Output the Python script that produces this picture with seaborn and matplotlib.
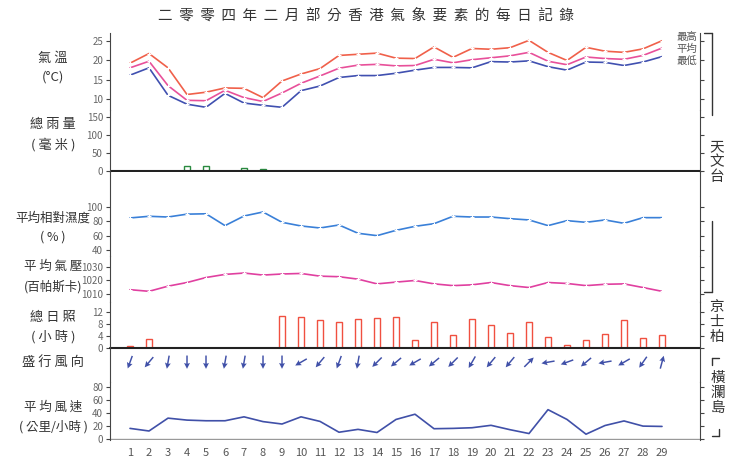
import numpy as np
import pandas as pd
import matplotlib
matplotlib.use("Agg")
import matplotlib.pyplot as plt
import seaborn as sns

sns.set_style("white")
plt.rcParams["font.family"] = ["Noto Sans CJK TC", "DejaVu Sans"]

days = list(range(1, 30))
t_max = [19.3, 21.8, 18.1, 11.2, 11.8, 12.9, 12.8, 10.4, 14.7, 16.5, 17.9, 21.3, 21.6, 21.9, 20.6,
         20.5, 23.5, 20.8, 23.1, 22.9, 23.3, 25.2, 22.1, 20.0, 23.4, 22.4, 22.1, 23.0, 25.1]
t_mean = [18.1, 19.8, 13.5, 9.7, 9.6, 12.3, 10.4, 9.4, 11.6, 14.1, 16.0, 18.0, 18.8, 19.0, 18.6,
          18.7, 20.3, 19.4, 20.2, 20.7, 21.2, 22.1, 19.8, 18.9, 20.9, 20.5, 20.3, 21.3, 23.2]
t_min = [16.2, 18.1, 11.0, 8.7, 7.9, 11.5, 9.0, 8.4, 7.9, 12.2, 13.4, 15.6, 16.1, 16.1, 16.7,
         17.5, 18.2, 18.2, 18.1, 19.7, 19.6, 19.9, 18.4, 17.5, 19.6, 19.5, 18.7, 19.6, 21.0]
rain = [0, 0, 0, 15, 14, 0, 9, 6] + [0] * 21
humidity = [84.7, 87, 86, 90, 90.5, 74, 87.4, 93, 78.6, 73.5, 70.7, 74.9, 63.3, 60, 67.4, 73, 76.7,
            87, 86, 86, 83.7, 81.9, 74, 80.9, 78.6, 81.9, 77.2, 85.1, 85.1]
pressure = [1013.2, 1012, 1015.8, 1018.5, 1022.2, 1024.5, 1025.5, 1024, 1024.8, 1025.2, 1023.2,
            1022.8, 1021, 1017.5, 1018.8, 1020, 1017.5, 1016.2, 1016.8, 1018.5, 1016.2, 1014.8,
            1018.5, 1017.8, 1016.2, 1017.2, 1017.5, 1014.8, 1012]
sunshine = [0.8, 2.9, 0, 0, 0, 0, 0, 0, 10.5, 10.3, 9.2, 8.8, 9.5, 9.9, 10.3, 2.7, 8.5, 4.4, 9.8,
            7.5, 5.0, 8.5, 3.6, 1.0, 2.5, 4.8, 9.4, 3.3, 4.3]
# prevailing wind direction, compass bearing the wind blows from (degrees)
wind_from = [20, 40, 10, 0, 0, 10, 10, 0, 0, 60, 40, 20, 10, 45, 50, 60, 50, 45, 30, 40, 40, 225,
             80, 70, 50, 80, 60, 35, 195]
wind_speed = [16.3, 12.3, 32, 29, 28, 28, 34, 26.7, 23, 34, 27, 10.4, 14.8, 10, 30, 38, 15.8, 16.3,
              17.3, 21, 14.3, 8.4, 45, 30, 7.4, 20.7, 27.7, 19.8, 19.3]

df = pd.DataFrame({"day": days, "max": t_max, "mean": t_mean, "min": t_min, "rain": rain,
                   "rh": humidity, "p": pressure, "sun": sunshine, "ws": wind_speed})

W, H = 733, 463
fig = plt.figure(figsize=(W / 100, H / 100), dpi=100)
grey = "#666666"


def make_ax(top, bottom, ylim, ticks):
    ax = fig.add_axes([110 / W, 1 - bottom / H, 590 / W, (bottom - top) / H])
    ax.set_xlim(-0.053, 31)
    ax.set_ylim(*ylim)
    ax.set_yticks(ticks)
    ax.set_xticks([])
    ax.patch.set_alpha(0)
    for s in ["top", "bottom"]:
        ax.spines[s].set_visible(False)
    for s in ["left", "right"]:
        ax.spines[s].set_color("#444444")
        ax.spines[s].set_linewidth(0.8)
    ax.tick_params(axis="y", which="both", direction="out", length=3, labelsize=7,
                   labelcolor=grey, colors="#444444", right=True, left=True, pad=2)
    return ax


def label(ax, lines, y, fs=9):
    ax.text(-57 / 590, y, "\n".join(lines), transform=ax.transAxes, ha="center", va="center",
            fontsize=fs, color="#333333", linespacing=1.6)


def clean(ax):
    ax.set_ylabel("")
    ax.set_xlabel("")


# temperature
ax = make_ax(33, 110, (7.2, 27.1), [10, 15, 20, 25])
for col, c in [("max", "#f0604a"), ("mean", "#e8509a"), ("min", "#4050b0")]:
    sns.lineplot(data=df, x="day", y=col, ax=ax, color=c, lw=1.2, marker="+", ms=3, mew=0.8)
clean(ax)
for i, t in enumerate(["最高", "平均", "最低"]):
    ax.text(1.0 - 0.004, 0.95 - i * 0.16, t, transform=ax.transAxes, ha="right", va="center",
            fontsize=7.5, color="#555555")
label(ax, ["氣 溫", "(°C)"], 0.55, fs=9.5)

# rainfall
ax = make_ax(110, 172, (-2.8, 169.4), [0, 50, 100, 150])
ax.bar(df["day"], df["rain"], width=0.35, facecolor="white", edgecolor="#2a8a40", lw=1)
ax.axhline(0, color="#222222", lw=1.5)
label(ax, ["總 雨 量", "( 毫 米 )"], 0.6, fs=9.5)

# humidity
ax = make_ax(172, 256, (31.6, 148.8), [40, 60, 80, 100])
sns.lineplot(data=df, x="day", y="rh", ax=ax, color="#3a80d8", lw=1.2, marker="+", ms=3)
clean(ax)
label(ax, ["平均相對濕度", "( % )"], 0.34)

# pressure
ax = make_ax(256, 302, (1004.1, 1038.1), [1010, 1020, 1030])
sns.lineplot(data=df, x="day", y="p", ax=ax, color="#e040a0", lw=1.2, marker="+", ms=3)
clean(ax)
label(ax, ["平 均 氣 壓", "(百帕斯卡)"], 0.55)

# sunshine
ax = make_ax(302, 348, (0, 15.3), [0, 4, 8, 12])
ax.bar(df["day"], df["sun"], width=0.3, facecolor="white", edgecolor="#f05040", lw=1)
ax.axhline(0, color="#222222", lw=1.5, clip_on=False)
label(ax, ["總 日 照", "( 小 時 )"], 0.45, fs=9.5)

# wind direction
ax = make_ax(349, 382, (0, 1), [])
th = np.radians(wind_from)
ax.quiver(df["day"], np.full(29, 0.6), -np.sin(th), -np.cos(th), angles="uv", pivot="middle",
          scale_units="inches", scale=7.5, color="#4050a8", width=0.0025, headwidth=4,
          headlength=4, headaxislength=3.5)
label(ax, ["盛 行 風 向"], 0.6, fs=9.5)

# wind speed
ax = make_ax(382, 440, (-1.5, 87.4), [0, 20, 40, 60, 80])
sns.lineplot(data=df, x="day", y="ws", ax=ax, color="#4050a8", lw=1.2)
clean(ax)
ax.axhline(0, color="#999999", lw=1)
ax.set_xticks(days)
ax.tick_params(axis="x", length=0, labelsize=8, labelcolor="#555555", pad=6, bottom=True)
label(ax, ["平 均 風 速", "( 公里/小時 )"], 0.4)

fig.text(0.5, 1 - 16 / H, "  ".join("二零零四年二月部分香港氣象要素的每日記錄"), ha="center",
         va="center", fontsize=10.5, color="#333333")

# station brackets on the right
line_kw = dict(color="#333333", lw=1)
fig.add_artist(plt.Line2D([704 / W, 712 / W], [1 - 33 / H] * 2, **line_kw))
fig.add_artist(plt.Line2D([712 / W] * 2, [1 - 33 / H, 1 - 115 / H], **line_kw))
fig.text(717 / W, 1 - 162 / H, "天\n文\n台", ha="center", va="center", fontsize=10.5,
         color="#333333", linespacing=1.1)
fig.add_artist(plt.Line2D([712 / W] * 2, [1 - 221 / H, 1 - 292 / H], **line_kw))
fig.add_artist(plt.Line2D([704 / W, 712 / W], [1 - 292 / H] * 2, **line_kw))
fig.text(717 / W, 1 - 322 / H, "京\n士\n柏", ha="center", va="center", fontsize=10.5,
         color="#333333", linespacing=1.1)
fig.add_artist(plt.Line2D([712 / W, 719 / W], [1 - 358 / H] * 2, **line_kw))
fig.add_artist(plt.Line2D([712 / W] * 2, [1 - 358 / H, 1 - 365 / H], **line_kw))
fig.add_artist(plt.Line2D([712 / W, 719 / W], [1 - 436 / H] * 2, **line_kw))
fig.add_artist(plt.Line2D([719 / W] * 2, [1 - 436 / H, 1 - 429 / H], **line_kw))
fig.text(718 / W, 1 - 393 / H, "橫\n瀾\n島", ha="center", va="center", fontsize=10.5,
         color="#333333", linespacing=1.1)

fig.savefig("out.png", dpi=100)
